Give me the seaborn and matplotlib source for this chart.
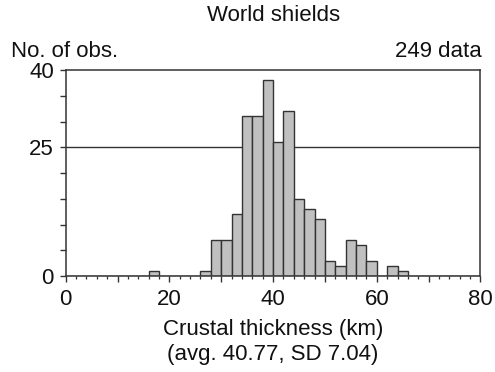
import numpy as np
import pandas as pd
import matplotlib
matplotlib.use("Agg")
import matplotlib.pyplot as plt
import seaborn as sns
from matplotlib.ticker import MultipleLocator

# Data: 2-km bins (left edge) and counts
bin_left = [16, 26, 28, 30, 32, 34, 36, 38, 40, 42, 44, 46, 48, 50, 52, 54, 56, 58, 62, 64]
counts = [1, 1, 7, 7, 12, 31, 31, 38, 26, 32, 15, 13, 11, 3, 2, 7, 6, 3, 2, 1]
bin_width = 2
x_range = (0, 80)
y_range = (0, 40)
x_tick_labels = ["0", "", "20", "", "40", "", "60", "", "80"]
y_tick_labels = ["0", "", "", "", "", "25", "", "", "40"]
ref_line = 25

title = "World shields"
ylabel_text = "No. of obs."
n_text = "249 data"
xlabel_text = "Crustal thickness (km)\n(avg. 40.77, SD 7.04)"

sns.set_theme(style="ticks")
plt.rcParams['font.family'] = ['Liberation Sans', 'DejaVu Sans']

df = pd.DataFrame({"mid": np.array(bin_left, dtype=float) + bin_width / 2,
                   "n": np.array(counts, dtype=float)})

fig = plt.figure(figsize=(4.95, 3.72), dpi=100)
ax = fig.add_axes([0.1327, 0.258, 0.838, 0.5538])

dark = "#333333"
txt = "#111111"
fs = 16
ax.axhline(ref_line, color=dark, lw=1.0, zorder=1)
sns.histplot(data=df, x="mid", weights="n", binwidth=bin_width, binrange=x_range,
             color="#c0c0c0", edgecolor=dark, linewidth=1.0, alpha=1.0, ax=ax)
for p in ax.patches:
    p.set_zorder(2)

ax.set_xlim(*x_range)
ax.set_ylim(*y_range)
ax.set_xticks(np.arange(0, 81, 10))
ax.set_xticklabels(x_tick_labels)
ax.xaxis.set_minor_locator(MultipleLocator(2))
ax.set_yticks(np.arange(0, 41, 5))
ax.set_yticklabels(y_tick_labels)

ax.tick_params(axis="x", which="major", direction="out", length=4, width=1.0, color=dark,
               labelsize=fs, pad=5, labelcolor=txt)
ax.tick_params(axis="x", which="minor", direction="out", length=2, width=0.9, color=dark)
ax.tick_params(axis="y", which="major", direction="out", length=4.5, width=1.0, color=dark,
               labelsize=fs, pad=4, labelcolor=txt)
for s in ax.spines.values():
    s.set_visible(True)
    s.set_color(dark)
    s.set_linewidth(1.1)

ax.set_xlabel(xlabel_text, fontsize=fs, color=txt, labelpad=7, linespacing=1.25)
ax.set_ylabel("")

fig.text(0.553, 0.957, title, ha="center", va="center", fontsize=fs, color=txt)
fig.text(0.022, 0.862, ylabel_text, ha="left", va="center", fontsize=fs, color=txt)
fig.text(0.974, 0.862, n_text, ha="right", va="center", fontsize=fs, color=txt)

fig.savefig("out.png", dpi=100)
